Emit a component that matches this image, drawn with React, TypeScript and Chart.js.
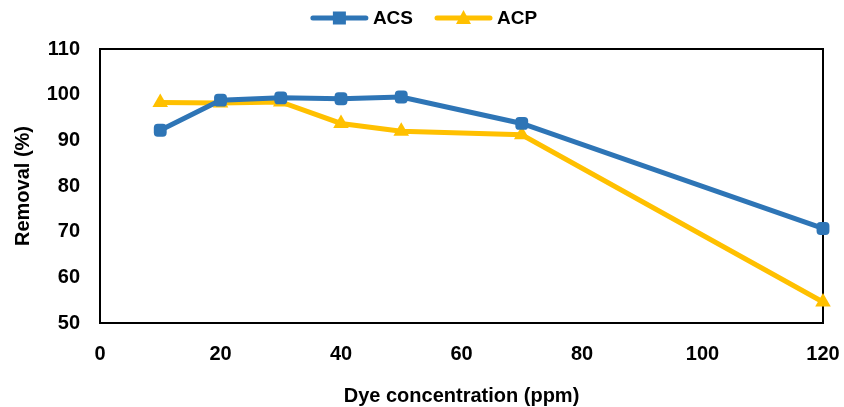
import React, { useEffect, useRef } from "react";
import { Chart, registerables } from "chart.js";

Chart.register(...registerables);

const concentrations = [10, 20, 30, 40, 50, 70, 120];
const acsRemoval = [92.2, 98.8, 99.3, 99.1, 99.5, 93.7, 70.7];
const acpRemoval = [98.3, 98.2, 98.4, 93.7, 92.0, 91.2, 54.6];
const seriesNames = ["ACS", "ACP"];
const xTitle = "Dye concentration (ppm)";
const yTitle = "Removal (%)";

const BLUE = "#2E75B6";
const GOLD = "#FFC000";
const FONT = "'Liberation Sans', Arial, sans-serif";

export default function App() {
  const ref = useRef<HTMLCanvasElement>(null);
  useEffect(() => {
    const boxPlugin = {
      id: "box",
      beforeDatasetsDraw(chart: any) {
        const { ctx, chartArea } = chart;
        ctx.save();
        ctx.strokeStyle = "#000";
        ctx.lineWidth = 2;
        ctx.strokeRect(chartArea.left, chartArea.top, chartArea.right - chartArea.left, chartArea.bottom - chartArea.top);
        ctx.restore();
      },
    };
    const legendPlugin = {
      id: "customLegend",
      afterDraw(chart: any) {
        const ctx = chart.ctx as CanvasRenderingContext2D;
        ctx.save();
        ctx.font = `bold 19px ${FONT}`;
        const lineLen = 57;
        const gapText = 5;
        const gapItem = 22;
        const colors = [BLUE, GOLD];
        const widths = seriesNames.map((n) => ctx.measureText(n).width);
        const total = widths.reduce((a, w) => a + lineLen + gapText + w, 0) + gapItem * (seriesNames.length - 1);
        let x = chart.width / 2 + 2 - total / 2;
        const cy = 18;
        seriesNames.forEach((n, i) => {
          const col = colors[i];
          ctx.strokeStyle = col;
          ctx.fillStyle = col;
          ctx.lineWidth = 5;
          ctx.lineCap = "round";
          ctx.beginPath();
          ctx.moveTo(x + 2, cy);
          ctx.lineTo(x + lineLen - 2, cy);
          ctx.stroke();
          const mx = x + lineLen / 2;
          if (i === 0) {
            ctx.fillRect(mx - 6.5, cy - 6.5, 13, 13);
          } else {
            ctx.beginPath();
            ctx.moveTo(mx, cy - 8);
            ctx.lineTo(mx + 7.5, cy + 6);
            ctx.lineTo(mx - 7.5, cy + 6);
            ctx.closePath();
            ctx.fill();
          }
          ctx.fillStyle = "#000";
          ctx.textBaseline = "middle";
          ctx.textAlign = "left";
          ctx.fillText(n, x + lineLen + gapText, cy + 1);
          x += lineLen + gapText + widths[i] + gapItem;
        });
        ctx.restore();
      },
    };
    const chart = new Chart(ref.current!, {
      type: "line",
      data: {
        datasets: [
          {
            label: seriesNames[0],
            data: concentrations.map((x, i) => ({ x, y: acsRemoval[i] })),
            borderColor: BLUE,
            backgroundColor: BLUE,
            borderWidth: 5,
            pointStyle: "rectRounded",
            pointRadius: 7.5,
            pointBorderWidth: 0,
            tension: 0,
            clip: false as any,
          },
          {
            label: seriesNames[1],
            data: concentrations.map((x, i) => ({ x, y: acpRemoval[i] })),
            borderColor: GOLD,
            backgroundColor: GOLD,
            borderWidth: 5,
            pointStyle: "triangle",
            pointRadius: 9,
            pointBorderWidth: 0,
            tension: 0,
            clip: false as any,
          },
        ],
      },
      options: {
        responsive: false,
        animation: false,
        layout: { padding: { left: 0, right: 21, top: 49, bottom: 0 } },
        plugins: {
          tooltip: { enabled: false },
          legend: { display: false },
        },
        scales: {
          x: {
            type: "linear",
            min: 0,
            max: 120,
            ticks: { stepSize: 20, padding: 19, color: "#000", font: { family: FONT, size: 20, weight: "bold" } },
            grid: { display: false, drawTicks: false },
            border: { display: false },
            title: { display: true, text: xTitle, color: "#000", padding: { top: 10, bottom: 0 }, font: { family: FONT, size: 20, weight: "bold", lineHeight: 1.1 } },
            afterFit: (s: any) => { s.height = 84; s.paddingRight = 0; s.paddingLeft = 0; },
          },
          y: {
            min: 50,
            max: 110,
            ticks: { stepSize: 10, padding: 20, color: "#000", font: { family: FONT, size: 20, weight: "bold" } },
            grid: { display: false, drawTicks: false },
            border: { display: false },
            title: { display: true, text: yTitle, color: "#000", padding: { top: 11, bottom: 0 }, font: { family: FONT, size: 20, weight: "bold" } },
            afterFit: (s: any) => { s.width = 100; s.paddingTop = 0; s.paddingBottom = 0; },
          },
        },
      },
      plugins: [boxPlugin, legendPlugin],
    });
    return () => chart.destroy();
  }, []);
  return (
    <div style={{ position: "fixed", left: 0, top: 0, width: 844, height: 407, background: "#fff" }}>
      <canvas ref={ref} width={844} height={407} />
    </div>
  );
}
